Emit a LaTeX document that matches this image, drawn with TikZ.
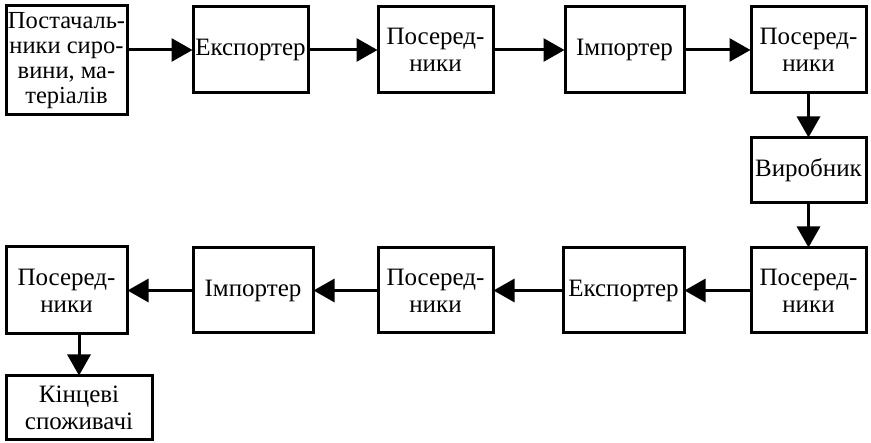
\documentclass[tikz,border=0pt]{standalone}
\usepackage{fontspec}
\setmainfont{Liberation Serif}
\usetikzlibrary{arrows.meta,positioning}
\tikzset{
  blk/.style={draw, line width=3pt, inner sep=1pt, align=center, font=\fontsize{25}{27}\selectfont},
  arr/.style={line width=3pt, -{Triangle[length=21pt, width=23pt]}, shorten >=-1pt}
}
\begin{document}
\begin{tikzpicture}[x=1pt, y=1pt]
  \useasboundingbox (0,0) rectangle (871,-443);

  % top row
  \node[blk, minimum width=121pt, minimum height=109pt, font=\fontsize{24.5}{25}\selectfont] (sup) at (66.5,-60.5) {Постачаль-\\ники сиро-\\вини, ма-\\теріалів};
  \node[blk, minimum width=115pt, minimum height=86pt] (exp1) at (250.5,-50) {Експортер};
  \node[blk, minimum width=115pt, minimum height=86pt] (mid1) at (435.5,-50) {Посеред-\\ники};
  \node[blk, minimum width=119pt, minimum height=86pt] (imp1) at (624.5,-50) {Імпортер};
  \node[blk, minimum width=115pt, minimum height=86pt] (mid2) at (808.5,-50) {Посеред-\\ники};

  \draw[arr] (sup.east |- exp1.west) -- (exp1.west);
  \draw[arr] (exp1.east) -- (mid1.west);
  \draw[arr] (mid1.east) -- (imp1.west);
  \draw[arr] (imp1.east) -- (mid2.west);

  % producer
  \node[blk, minimum width=115pt, minimum height=65pt] (prod) at (808.5,-170.5) {Виробник};
  \draw[arr] (mid2.south) -- (prod.north);

  % bottom row
  \node[blk, minimum width=115pt, minimum height=85pt] (mid3) at (808.5,-290.5) {Посеред-\\ники};
  \node[blk, minimum width=121pt, minimum height=85pt] (exp2) at (623.5,-290.5) {Експортер};
  \node[blk, minimum width=115pt, minimum height=85pt] (mid4) at (435.5,-290.5) {Посеред-\\ники};
  \node[blk, minimum width=120pt, minimum height=85pt] (imp2) at (253,-290.5) {Імпортер};
  \node[blk, minimum width=121pt, minimum height=87pt] (mid5) at (66.5,-290.5) {Посеред-\\ники};

  \draw[arr] (prod.south) -- (mid3.north);
  \draw[arr] (mid3.west) -- (exp2.east);
  \draw[arr] (exp2.west) -- (mid4.east);
  \draw[arr] (mid4.west) -- (imp2.east);
  \draw[arr] (imp2.west) -- (mid5.east);

  % end consumers
  \node[blk, minimum width=146pt, minimum height=64pt] (cons) at (79,-408) {Кінцеві\\споживачі};
  \draw[arr] (cons.north |- mid5.south) -- (cons.north);
\end{tikzpicture}
\end{document}
